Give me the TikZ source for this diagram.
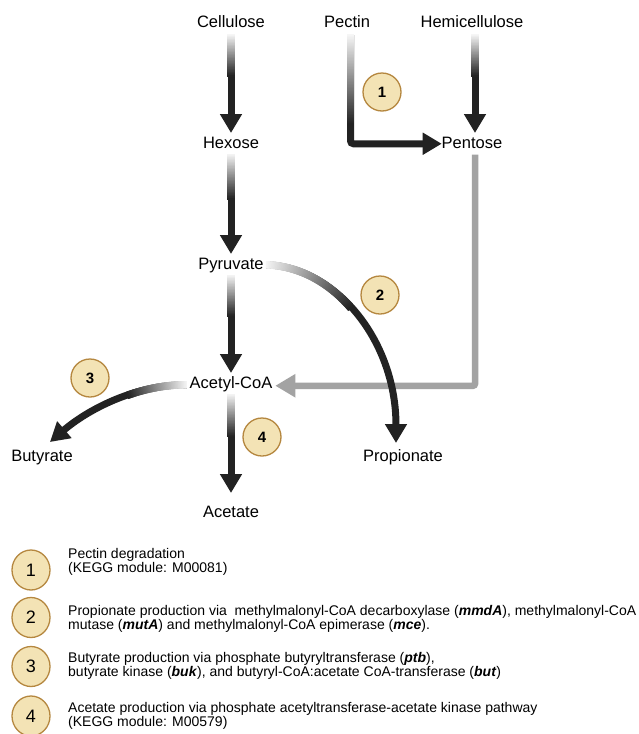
\documentclass[tikz,border=0pt]{standalone}
\usepackage{fontspec}
\setmainfont{Liberation Sans}
\newfontfamily\legfont{Liberation Sans}
\usetikzlibrary{arrows.meta,decorations.markings,shapes.geometric}
\definecolor{arrowdark}{HTML}{222222}
\definecolor{arrowgray}{HTML}{A3A3A3}
\definecolor{badgefill}{HTML}{F3E3B5}
\definecolor{badgedraw}{HTML}{B5873F}
\begin{document}
\begin{tikzpicture}[x=1pt,y=-1pt,
  lbl/.style={font=\fontsize{16.5}{19}\selectfont, text height=12pt, text depth=3.5pt,
    inner sep=0pt, outer sep=3pt, anchor=base},
  darr/.style={draw=arrowdark, line width=7pt, -{Triangle[width=21pt,length=19pt]}},
  garr/.style={draw=arrowgray, line width=6.5pt, rounded corners=2pt, -{Triangle[width=22pt,length=20pt]}},
  grad/.style={postaction={decorate}, decoration={markings,
    mark=between positions 0 and #1 step 0.6pt with {
      \pgfmathsetmacro\gp{min(100, 4+96*\pgfkeysvalueof{/pgf/decoration/mark info/distance from start}/(#1*\pgfdecoratedpathlength))}
      \fill[sharp corners, arrowdark!\gp!white] (-0.7pt,-3.7pt) rectangle (0.7pt,3.7pt);
    }}},
  badge/.style={circle, minimum size=38pt, inner sep=0pt, fill=badgefill, draw=badgedraw,
    line width=1.3pt, font=\bfseries\fontsize{15}{15}\selectfont},
  legbadge/.style={ellipse, minimum width=38pt, minimum height=40pt, inner sep=0pt, fill=badgefill,
    draw=badgedraw, line width=1.3pt, font=\legfont\fontsize{18}{18}\selectfont},
  legtxt/.style={anchor=west, align=left, inner sep=0pt, font=\legfont\fontsize{14}{14}\selectfont}
]
\useasboundingbox[fill=white] (0,0) rectangle (639,734);

% labels
\node[lbl] (cell) at (231,27) {Cellulose};
\node[lbl] (pec) at (347,27) {Pectin};
\node[lbl] (hemi) at (472,27) {Hemicellulose};
\node[lbl] (hex) at (231,148) {Hexose};
\node[lbl] (pent) at (472,148) {Pentose};
\node[lbl] (pyr) at (231,269) {Pyruvate};
\node[lbl] (acet) at (231,388) {Acetyl-CoA};
\node[lbl] (but) at (42,461) {Butyrate};
\node[lbl] (prop) at (403,461) {Propionate};
\node[lbl] (acetate) at (231,517) {Acetate};

% arrows
\draw[darr, grad=0.42] ([yshift=-1.5pt]cell.south) -- (hex.north);
\draw[darr, grad=0.45, rounded corners=3pt] ([xshift=3.5pt,yshift=-1.5pt]pec.south) |- ([xshift=3pt]pent.west);
\draw[darr, grad=0.42] ([xshift=3pt,yshift=-1.5pt]hemi.south) -- ([xshift=3pt]pent.north);
\draw[darr, grad=0.45] (hex.south) -- (pyr.north);
\draw[darr, grad=0.42] (pyr.south) -- (acet.north);
\draw[garr] ([xshift=3pt]pent.south) |- ([yshift=-2pt]acet.east);
\draw[darr, grad=0.43] (acet.south) -- ([yshift=9pt]acetate.north);
\draw[darr, grad=0.4] (pyr.east) .. controls +(72,3) and +(0,-100) .. ([xshift=-7pt,yshift=3pt]prop.north);
\draw[darr, grad=0.4] ([yshift=-1pt]acet.west) .. controls +(-55,0) and +(35,-30) .. ([xshift=8pt,yshift=4pt]but.north);

% badges
\node[badge] (b1) at (382,92) {1};
\node[badge] (b2) at (380,295) {2};
\node[badge] (b3) at (90,378) {3};
\node[badge] (b4) at (262,437) {4};

% legend
\node[legbadge] (l1) at (31,570) {1};
\node[legbadge] (l2) at (31,617.5) {2};
\node[legbadge] (l3) at (31,666.5) {3};
\node[legbadge] (l4) at (31,716) {4};
\node[legtxt] (t1) at (68,562) {Pectin degradation\\(KEGG module: M00081)};
\node[legtxt] (t2) at (68,618.5) {Propionate production via~ methylmalonyl-CoA decarboxylase (\textbf{\textit{mmdA}}), methylmalonyl-CoA\\mutase (\textbf{\textit{mutA}}) and methylmalonyl-CoA epimerase (\textbf{\textit{mce}}).};
\node[legtxt] (t3) at (68,666) {Butyrate production via phosphate butyryltransferase (\textbf{\textit{ptb}}),\\butyrate kinase (\textbf{\textit{buk}}), and butyryl-CoA:acetate CoA-transferase (\textbf{\textit{but}})};
\node[legtxt] (t4) at (68,715.5) {Acetate production via phosphate acetyltransferase-acetate kinase pathway\\(KEGG module: M00579)};
\end{tikzpicture}
\end{document}
